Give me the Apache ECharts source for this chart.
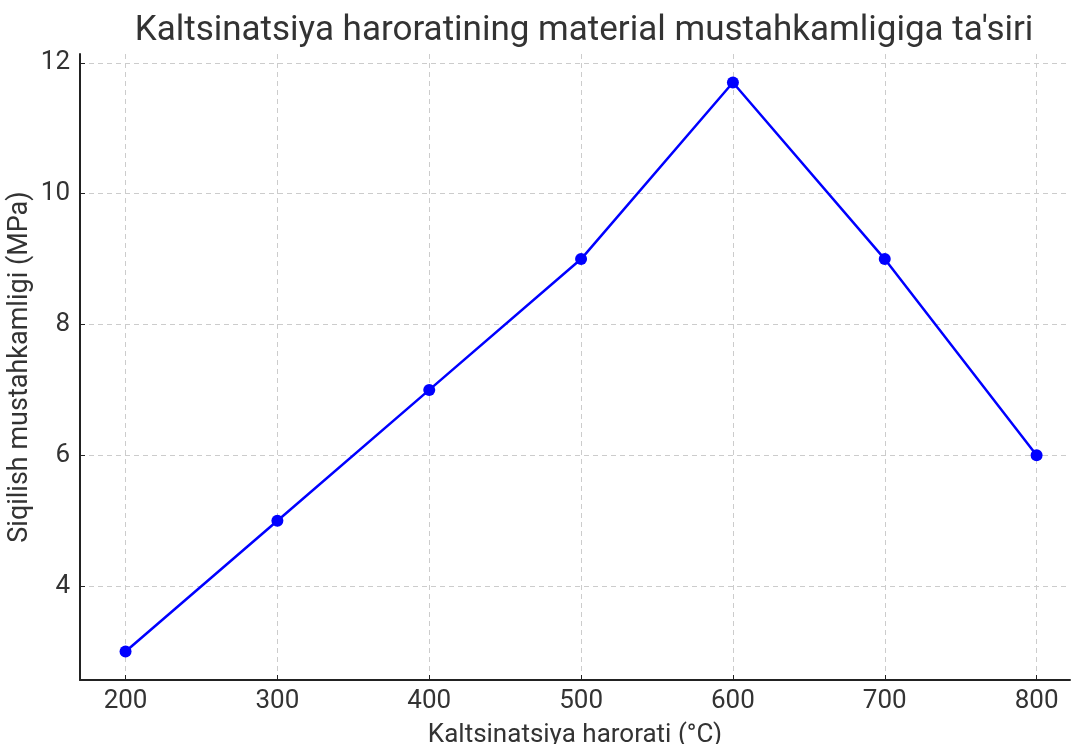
<!DOCTYPE html>
<html>
<head>
<meta charset="utf-8">
<script src="https://cdn.jsdelivr.net/npm/echarts@6/dist/echarts.min.js"></script>
<style>
  html, body { margin: 0; padding: 0; background: #fff; }
  #chart { width: 1071px; height: 744px; }
</style>
</head>
<body>
<div id="chart"></div>
<script>
// harorat (°C) va mustahkamlik (MPa)
const temps = [200, 300, 400, 500, 600, 700, 800];
const strength = [3, 5, 7, 9, 11.7, 9, 6];
const xTicks = [200, 300, 400, 500, 600, 700, 800];
const yTicks = [4, 6, 8, 10, 12];

const fontName = 'Roboto';
const textColor = '#333333';

let chart = echarts.init(document.getElementById('chart'), null, { renderer: 'canvas' });

let option = {
  animation: false,
  title: {
    text: "Kaltsinatsiya haroratining material mustahkamligiga ta'siri",
    left: 579,
    textAlign: 'center',
    top: 9,
    textStyle: {
      fontFamily: fontName,
      fontSize: 35,
      fontWeight: 'normal',
      color: textColor,
    },
  },
  grid: {
    left: 80,
    right: 1,
    top: 54,
    bottom: 64,
    containLabel: false,
    outerBoundsMode: 'none',
  },
  xAxis: {
    type: 'value',
    min: 170,
    max: 822,
    name: 'Kaltsinatsiya harorati (°C)',
    nameLocation: 'middle',
    nameGap: 42,
    nameTextStyle: { fontFamily: fontName, fontSize: 26, color: textColor },
    axisLine: { show: true, lineStyle: { color: '#222', width: 2 } },
    axisTick: { show: true, inside: true, length: 5, customValues: xTicks, lineStyle: { color: '#222' } },
    axisLabel: { customValues: xTicks, fontFamily: fontName, fontSize: 26, color: textColor, margin: 8 },
    splitLine: { show: true, lineStyle: { color: '#cccccc', type: [5, 4], width: 1 } },
  },
  yAxis: {
    type: 'value',
    min: 2.565,
    max: 12.135,
    name: 'Siqilish mustahkamligi (MPa)',
    nameLocation: 'middle',
    nameGap: 46,
    nameMoveOverlap: false,
    nameTextStyle: { fontFamily: fontName, fontSize: 27, color: textColor },
    axisLine: { show: true, lineStyle: { color: '#222', width: 2 } },
    axisTick: { show: true, inside: true, length: 5, customValues: yTicks, lineStyle: { color: '#222' } },
    axisLabel: { customValues: yTicks, fontFamily: fontName, fontSize: 26, color: textColor, margin: 10 },
    splitLine: { show: true, lineStyle: { color: '#cccccc', type: [5, 4], width: 1 } },
  },
  series: [
    {
      type: 'line',
      data: temps.map((t, i) => [t, strength[i]]),
      symbol: 'circle',
      symbolSize: 12,
      lineStyle: { color: '#0000ff', width: 2.5 },
      itemStyle: { color: '#0000ff' },
    },
  ],
};

chart.setOption(option);
</script>
</body>
</html>
